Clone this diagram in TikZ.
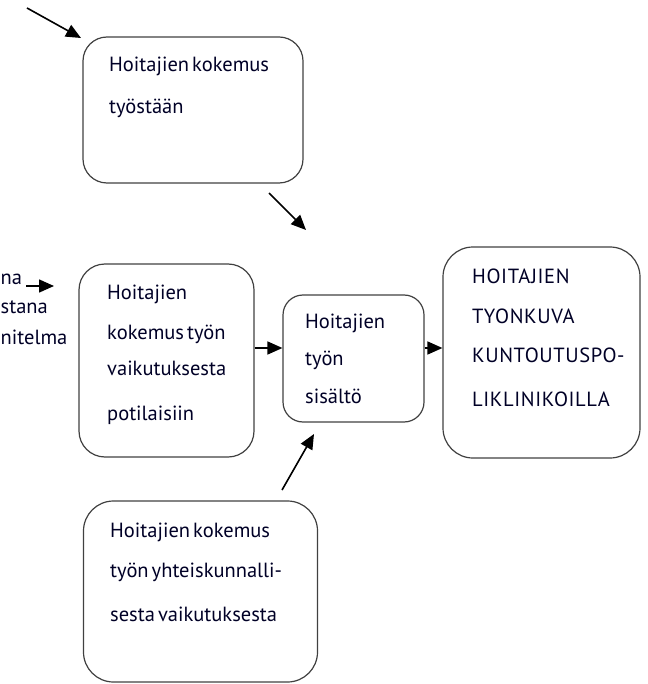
\documentclass[tikz,border=0pt]{standalone}
\usepackage{fontspec}
\setmainfont{PT Sans}
\newfontfamily\capsfont[LetterSpace=3]{PT Sans}
\usetikzlibrary{arrows.meta}
\newcommand{\myfont}{\fontsize{20.5}{24}\selectfont\spaceskip=0.15em\relax}
\newcommand{\mycapsfont}{\capsfont\fontsize{20.5}{24}\selectfont}
\begin{document}
\begin{tikzpicture}[x=1pt,y=-1pt,
  box/.style={draw=black!75,line width=1.2pt,rectangle,inner sep=0pt},
  txt/.style={anchor=base west,inner sep=0pt,font=\myfont,text=black!85!blue},
  captxt/.style={txt,font=\mycapsfont},
  conn/.style={-{Triangle[length=15pt,width=13pt]},line width=1.6pt,black}
]
\useasboundingbox (0,0) rectangle (647,684);
\clip (0,0) rectangle (647,684);
% boxes
\node[box,rounded corners=24pt,minimum width=220pt,minimum height=146pt] (b1) at (193,110) {};
\node[box,rounded corners=26pt,minimum width=175pt,minimum height=193pt] (b2) at (166.5,360.5) {};
\node[box,rounded corners=20pt,minimum width=141pt,minimum height=127pt] (b3) at (353.5,358.5) {};
\node[box,rounded corners=30pt,minimum width=197pt,minimum height=211pt] (b4) at (541.5,352.5) {};
\node[box,rounded corners=30pt,minimum width=234pt,minimum height=181pt] (b5) at (200.5,591.5) {};
% texts
\node[txt] (t11) at (109,72) {Hoitajien kokemus};
\node[txt] (t12) at (109,114) {työstään};
\node[txt] (t21) at (107,299) {Hoitajien};
\node[txt] (t22) at (107,339) {kokemus työn};
\node[txt] (t23) at (107,375) {vaikutuksesta};
\node[txt] (t24) at (107,420) {potilaisiin};
\node[txt] (t31) at (305,328) {Hoitajien};
\node[txt] (t32) at (305,365) {työn};
\node[txt] (t33) at (305,403) {sisältö};
\node[captxt] (t41) at (472,283) {HOITAJIEN};
\node[captxt] (t42) at (472,323) {TYONKUVA};
\node[captxt] (t43) at (472,362) {KUNTOUTUSPO-};
\node[captxt] (t44) at (472,406) {LIKLINIKOILLA};
\node[txt] (t51) at (110,537) {Hoitajien kokemus};
\node[txt] (t52) at (110,577) {työn yhteiskunnalli-};
\node[txt] (t53) at (110,621) {sesta vaikutuksesta};
% partly shown texts on the left edge
\node[txt] (l1) at (0.5,284) {na};
\node[txt] (l2) at (0.5,313) {stana};
\node[txt] (l3) at (0.5,344) {nitelma};
% free ends
\coordinate (a1s) at (27,8);
\coordinate (a1e) at (81,38);
\coordinate (a2s) at (269,193);
\coordinate (a2e) at (306,230);
\coordinate (a3s) at (26,286);
\coordinate (a3e) at (54,286);
\coordinate (a5s) at (282,490);
\coordinate (a5e) at (314,434);
% connectors
\draw[conn] (a1s) -- (a1e);
\draw[conn] (a2s) -- (a2e);
\draw[conn] (a3s) -- (a3e);
\draw[conn] (a5s) -- (a5e);
\draw[conn] (b2.east |- 0,348) -- (b3.west |- 0,348);
\draw[conn] (b3.east |- 0,348) -- (b4.west |- 0,348);
\end{tikzpicture}
\end{document}
